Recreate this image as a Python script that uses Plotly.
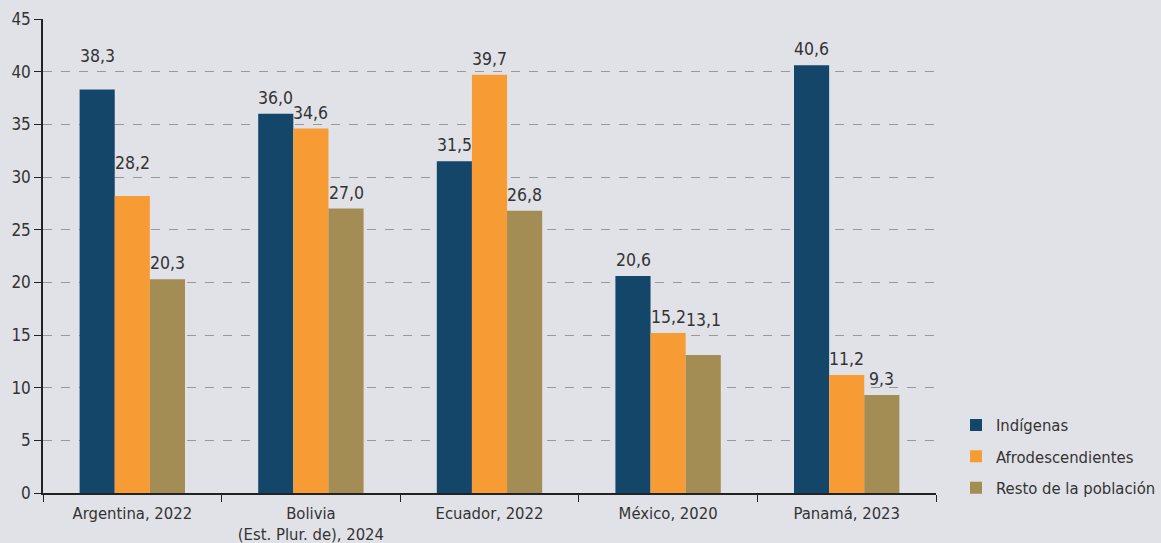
import plotly.graph_objects as go

categories = ["Argentina, 2022", "Bolivia<br>(Est. Plur. de), 2024", "Ecuador, 2022", "México, 2020", "Panamá, 2023"]
indigenas = [38.3, 36.0, 31.5, 20.6, 40.6]
afrodescendientes = [28.2, 34.6, 39.7, 15.2, 11.2]
resto = [20.3, 27.0, 26.8, 13.1, 9.3]

series = [
    ("Indígenas", indigenas, "#14466a"),
    ("Afrodescendientes", afrodescendientes, "#f79b34"),
    ("Resto de la población", resto, "#a38d55"),
]

FONT = "Liberation Sans Narrow, DejaVu Sans Condensed, Arial Narrow, sans-serif"
BAR_PX = 35.1

# extra lift of some value labels, as placed in the original (series index, category index): px
label_lift = {(0, 0): 18, (1, 0): 17, (2, 3): 19}

fig = go.Figure()
for i, (name, values, color) in enumerate(series):
    fig.add_bar(
        x=categories,
        y=values,
        name=name,
        legendgroup=name,
        marker_color=color,
        marker_line_width=0,
    )
    for j, v in enumerate(values):
        fig.add_annotation(
            x=categories[j],
            y=v,
            text=f"{v:.1f}".replace(".", ","),
            showarrow=False,
            xanchor="center",
            yanchor="bottom",
            xshift=(i - 1) * BAR_PX,
            yshift=4 + label_lift.get((i, j), 0),
            font=dict(size=17.5, color="#333333", family=FONT),
        )

fig.update_layout(
    width=1161,
    height=543,
    margin=dict(l=43, r=225, t=19, b=50),
    paper_bgcolor="#e1e2e7",
    plot_bgcolor="#e1e2e7",
    barmode="group",
    bargap=0.41,
    bargroupgap=0,
    font=dict(family=FONT, size=17, color="#333333"),
    legend=dict(
        xref="container",
        x=1.0,
        y=0.18,
        xanchor="right",
        yanchor="top",
        font=dict(size=16.5, color="#333333"),
        tracegroupgap=7,
        itemwidth=30,
    ),
)
fig.update_xaxes(
    type="category",
    automargin=False,
    showline=True,
    linecolor="#222222",
    linewidth=1.5,
    ticks="outside",
    tickson="boundaries",
    ticklen=7,
    tickcolor="#222222",
    ticklabelstandoff=4,
    tickfont=dict(size=16.5),
    showgrid=False,
)
fig.update_yaxes(
    range=[0, 45],
    dtick=5,
    automargin=False,
    showline=True,
    linecolor="#222222",
    linewidth=1.5,
    ticks="outside",
    ticklen=7,
    tickcolor="#222222",
    showgrid=True,
    gridcolor="#999999",
    griddash="dash",
    gridwidth=1,
    zeroline=False,
)

fig.write_html(
    "out.html",
    config={"displayModeBar": False},
    post_script="document.body.style.margin = '0';",
)
